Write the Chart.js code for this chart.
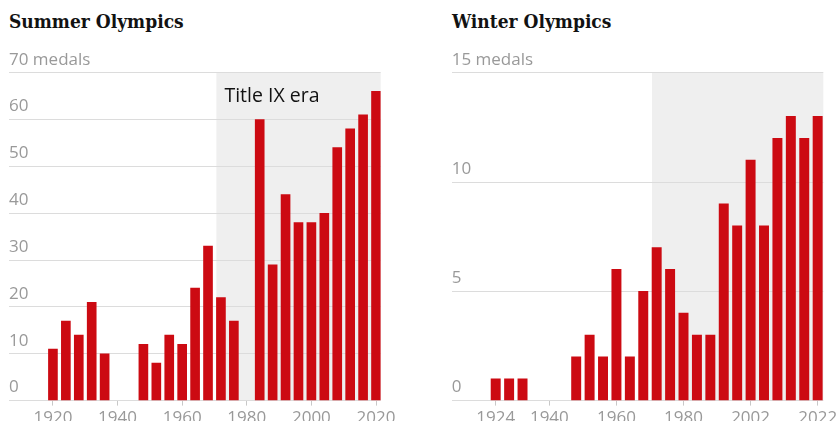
<!DOCTYPE html>
<html>
<head>
<meta charset="utf-8">
<script src="https://cdn.jsdelivr.net/npm/chart.js@4"></script>
<style>
  html, body { margin: 0; padding: 0; background: #fff; overflow: hidden; width: 838px; height: 421px; }
  canvas { position: absolute; top: 0; }
  .title { position: absolute; top: 9px; font-family: 'DejaVu Serif Condensed', 'DejaVu Serif', serif; font-weight: bold; font-size: 19px; color: #121212; white-space: nowrap; line-height: 24px; }
</style>
</head>
<body>
<div class="title" style="left:9px">Summer Olympics</div>
<div class="title" style="left:452px">Winter Olympics</div>
<canvas id="summer" width="420" height="430" style="left:0;width:420px;height:430px"></canvas>
<canvas id="winter" width="440" height="430" style="left:420px;width:440px;height:430px"></canvas>
<script>
// ---- Data ----
const summerYears  = [1920,1924,1928,1932,1936,1948,1952,1956,1960,1964,1968,1972,1976,1984,1988,1992,1996,2000,2004,2008,2012,2016,2020];
const summerMedals = [11,17,14,21,10,12,8,14,12,24,33,22,17,60,29,44,38,38,40,54,58,61,66];
const summerTicks  = [1920,1940,1960,1980,2000,2020];
const summerYTicks = [0,10,20,30,40,50,60,70];

const winterSlots  = ['1924','1928','1932','1936','1940','1944','1948','1952','1956','1960','1964','1968','1972','1976','1980','1984','1988','1992','1998','2002','2006','2010','2014','2018','2022'];
const winterMedals = [1,1,1,null,null,null,2,3,2,6,2,5,7,6,4,3,3,9,8,11,8,12,13,12,13];
const winterTickLabels = ['1924','1940','1960','1980','2002','2022'];
const winterYTicks = [0,5,10,15];

const BAR = '#cc0a12';
const GRID = '#dcdcdc';
const SHADE = '#efefef';
const TICKC = '#999999';
const FONT = "'Open Sans', sans-serif";

const shadePlugin = {
  id: 'shade',
  beforeDraw(chart, args, opts) {
    const {ctx, chartArea, scales} = chart;
    const x0 = scales.x.getPixelForValue(opts.from);
    ctx.save();
    ctx.fillStyle = SHADE;
    ctx.fillRect(x0, chartArea.top, chartArea.right - x0, chartArea.bottom - chartArea.top);
    ctx.restore();
  },
  afterDatasetsDraw(chart, args, opts) {
    if (!opts.label) return;
    const {ctx, scales} = chart;
    const x0 = scales.x.getPixelForValue(opts.from);
    ctx.save();
    ctx.fillStyle = '#121212';
    ctx.font = "19.5px " + FONT;
    ctx.textBaseline = 'alphabetic';
    ctx.textAlign = 'left';
    ctx.fillText(opts.label, x0 + 8, scales.y.getPixelForValue(opts.labelY));
    ctx.restore();
  }
};

function makeChart(id, points, xMin, xMax, xTicks, xLabel, yTicks, barW, padding, shade) {
  const yMax = yTicks[yTicks.length - 1];
  return new Chart(document.getElementById(id), {
    type: 'bar',
    data: { datasets: [{ data: points, backgroundColor: BAR, borderWidth: 0, barThickness: barW }] },
    plugins: [shadePlugin],
    options: {
      responsive: false,
      devicePixelRatio: 1,
      animation: false,
      layout: { padding },
      plugins: { legend: { display: false }, tooltip: { enabled: false }, shade },
      scales: {
        x: {
          type: 'linear', min: xMin, max: xMax, offset: false,
          afterBuildTicks: s => { s.ticks = xTicks.map(v => ({ value: v })); },
          grid: { display: true, offset: false, drawOnChartArea: false, drawTicks: true, tickLength: 5, color: '#c8c8c8' },
          border: { display: false },
          ticks: { padding: 2, color: TICKC, font: { family: FONT, size: 17, lineHeight: 1.2 }, maxRotation: 0, autoSkip: false, callback: xLabel }
        },
        y: {
          min: 0, max: yMax,
          afterBuildTicks: s => { s.ticks = yTicks.map(v => ({ value: v })); },
          grid: { color: GRID, drawTicks: false, lineWidth: 1 },
          border: { display: false },
          ticks: { mirror: true, padding: 0, labelOffset: -13, color: TICKC, font: { family: FONT, size: 17 },
                   callback: v => v === yMax ? v + ' medals' : String(v) }
        }
      }
    }
  });
}

const summerPoints = summerYears.map((y, i) => ({ x: y, y: summerMedals[i] }));
makeChart('summer', summerPoints, 1906.4, 2021.45, summerTicks, v => String(v), summerYTicks, 9,
  { left: 9, right: 39.3, top: 72.7, bottom: 0 }, { from: 1970.6, label: 'Title IX era', labelY: 63.8 });

const winterPoints = winterMedals.map((m, i) => ({ x: i, y: m })).filter(p => p.y !== null);
const winterTickIdx = winterTickLabels.map(l => winterSlots.indexOf(l));
makeChart('winter', winterPoints, -3.28, 24.42, winterTickIdx, v => winterSlots[v], winterYTicks, 9.3,
  { left: 31.7, right: 36.7, top: 72.7, bottom: 0 }, { from: 11.65 });
</script>
</body>
</html>
